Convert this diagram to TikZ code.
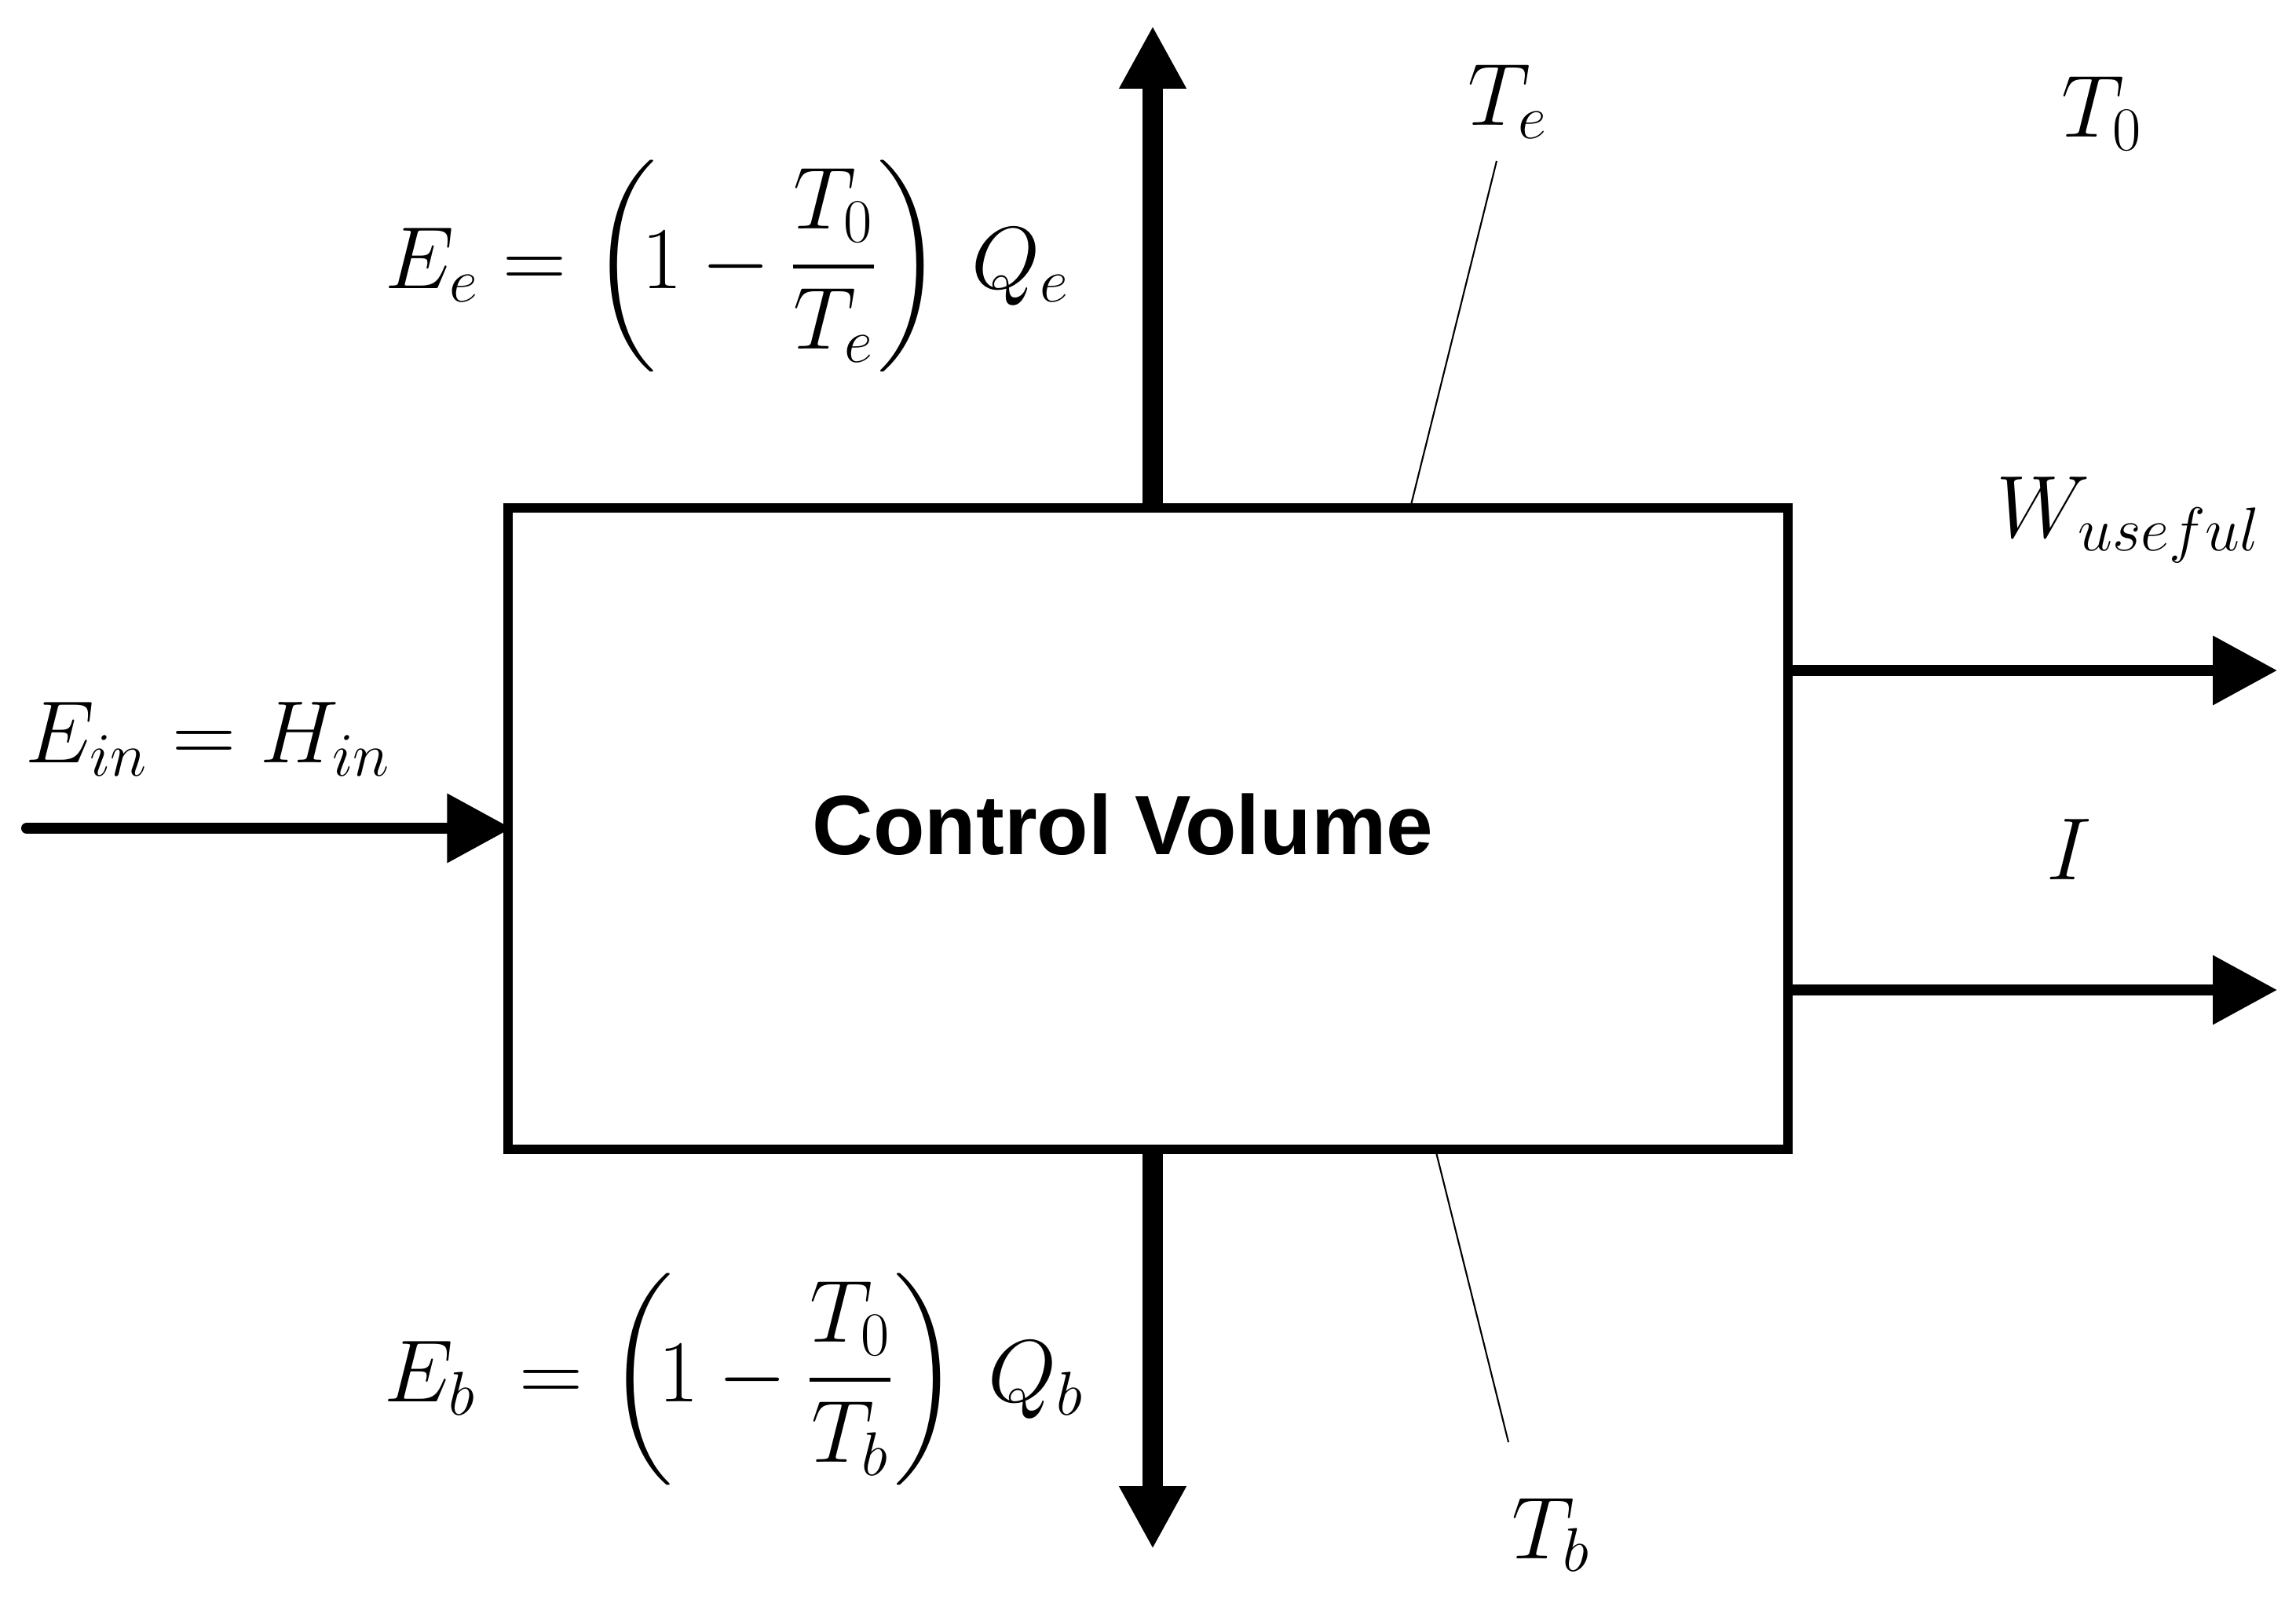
\RequirePackage{fix-cm}
\documentclass[tikz,border=0pt]{standalone}
\usepackage{amsmath,amssymb}
\usepackage{fontspec}
\newfontfamily\cvfont{Liberation Sans}
\usepackage{tikz}
\usetikzlibrary{positioning, arrows.meta, calc}

% tall bracket around the temperature ratio
\newcommand{\carnot}[1]{\left(\!\rule[-1.15cm]{0pt}{2.85cm}1 - \genfrac{}{}{1.6pt}{0}{T_0}{T_#1}\right)}

\begin{document}
\begin{tikzpicture}[
    heat/.style={line width=7.5pt, -{Triangle[length=0.8cm, width=0.8cm]}},
    flow/.style={line width=4pt, line cap=round, -{Triangle[length=0.82cm, width=0.85cm]}},
    leader/.style={line width=0.6pt},
    eqn/.style={inner sep=0pt, font=\fontsize{32}{38}\selectfont},
    cvbox/.style={draw, line width=3.2pt, minimum width=16.3cm, minimum height=8.17cm, inner sep=0pt}
]
\useasboundingbox (0,0) rectangle (29.24,20.60);

% --- Control volume ---
\node[cvbox] (cv) at (14.62,10.045) {};
\node[font=\cvfont\bfseries\fontsize{30.5}{36}\selectfont] (cvlabel) at (14.30,10.10) {Control Volume};

% --- Heat flows (top and bottom) ---
\coordinate (qe) at (14.68,20.27);
\coordinate (qb) at (14.68,0.87);
\draw[heat] (cv.north -| qe) -- (qe);
\draw[heat] (cv.south -| qb) -- (qb);

\node[eqn, anchor=west] (eqe) at (4.90,17.20)
    {$E_e = \carnot{e}\, Q_e$};
\node[eqn, anchor=west] (eqb) at (4.89,3.02)
    {$E_b \:= \carnot{b}\, Q_b$};

% --- Inflow ---
\coordinate (ein) at (0.34,10.05);
\draw[flow, shorten >=-0.1cm] (ein) -- (ein -| cv.west);
\node[eqn] (einlabel) at (2.65,11.18) {$E_{in} = H_{in}$};

% --- Outflows ---
\coordinate (wout) at (29.00,12.06);
\coordinate (iout) at (29.00,7.99);
\draw[flow] (cv.east |- wout) -- (wout);
\draw[flow] (cv.east |- iout) -- (iout);
\node[eqn] (wlabel) at (27.11,13.98) {$W_{useful}$};
\node[eqn] (ilabel) at (26.35,9.78) {$I$};

% --- Temperatures ---
\node[eqn] (te) at (19.20,19.30) {$T_e$};
\node[eqn] (tb) at (19.75,1.05) {$T_b$};
\node[eqn] (tzero) at (26.77,19.15) {$T_0$};

\coordinate (tetop) at (19.06,18.55);
\coordinate (tebase) at (17.96,14.13);
\coordinate (tbbase) at (18.28,5.96);
\coordinate (tbtip) at (19.21,2.23);
\draw[leader] (tetop) -- (tebase);
\draw[leader] (tbbase) -- (tbtip);

\end{tikzpicture}
\end{document}
